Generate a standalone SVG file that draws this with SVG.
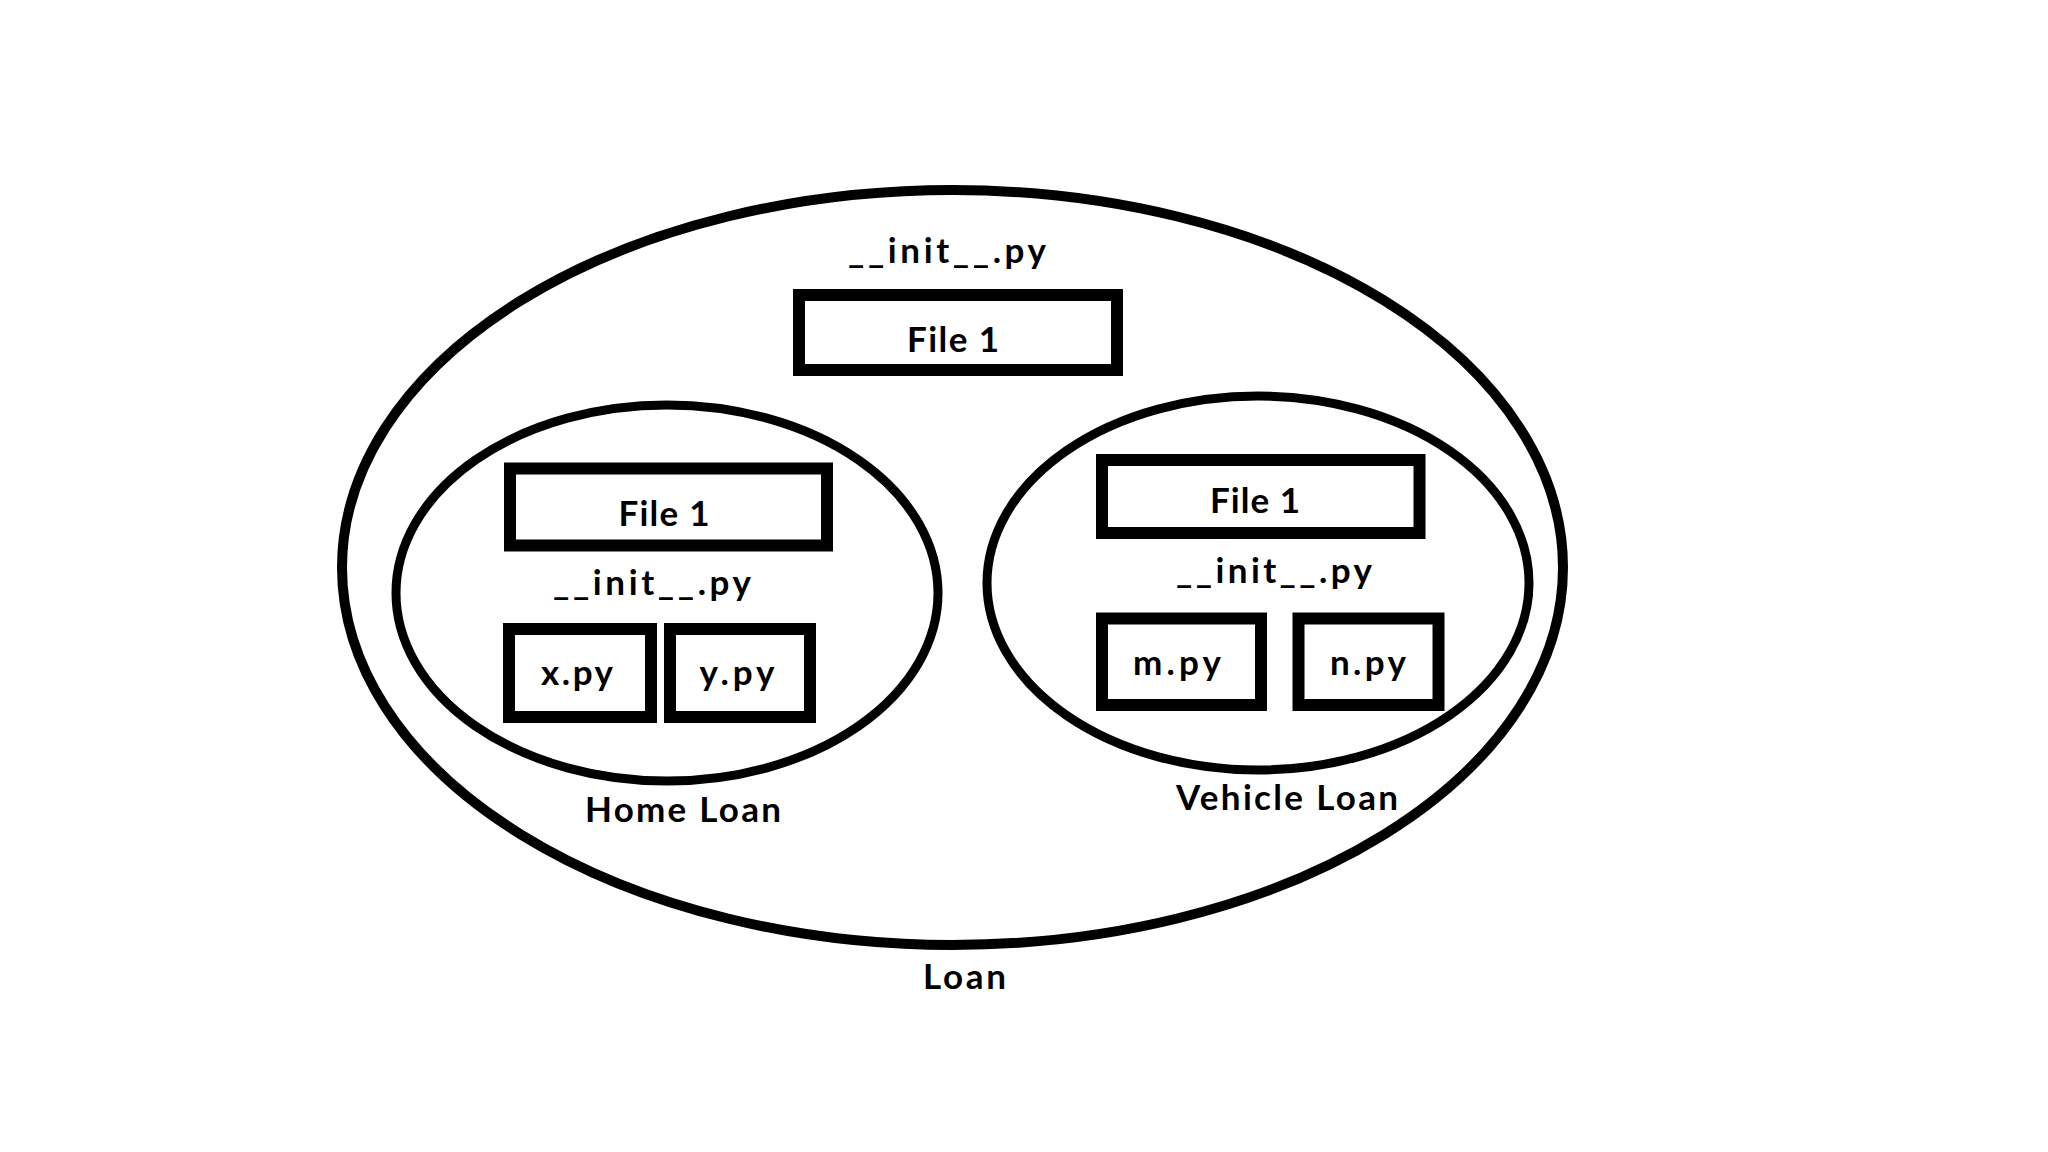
<svg xmlns="http://www.w3.org/2000/svg" width="2048" height="1152" viewBox="0 0 2048 1152">
  <style>
    .pkg { fill: none; stroke: #000; stroke-width: 9; }
    .outer { stroke-width: 10; }
    .box { fill: none; stroke: #000; stroke-width: 12; }
    .lbl { font-family: Lato, "Liberation Sans", sans-serif; font-weight: 700; font-size: 35px; fill: #000; text-anchor: middle; }
  </style>
  <rect x="0" y="0" width="2048" height="1152" fill="#fff"/>

  <g id="loan">
    <ellipse class="pkg outer" cx="952.5" cy="567.5" rx="610.5" ry="377.5"/>
    <text class="lbl" x="947" y="263" textLength="198" lengthAdjust="spacing">__init__.py</text>
    <text class="lbl" x="964.5" y="989" textLength="83" lengthAdjust="spacing">Loan</text>
  </g>

  <g id="loan-file1">
    <rect class="box" x="799" y="295" width="318" height="75"/>
    <text class="lbl" x="953" y="352" textLength="92" lengthAdjust="spacing">File 1</text>
  </g>

  <g id="home-loan">
    <ellipse class="pkg" cx="667" cy="593" rx="271" ry="188"/>
    <text class="lbl" x="652" y="595" textLength="198" lengthAdjust="spacing">__init__.py</text>
    <text class="lbl" x="683" y="822" textLength="196" lengthAdjust="spacing">Home Loan</text>
  </g>

  <g id="home-file1">
    <rect class="box" x="510" y="468.5" width="317" height="77"/>
    <text class="lbl" x="664" y="526" textLength="91" lengthAdjust="spacing">File 1</text>
  </g>

  <g id="home-x">
    <rect class="box" x="509" y="629" width="142" height="88"/>
    <text class="lbl" x="577" y="685" textLength="72" lengthAdjust="spacing">x.py</text>
  </g>

  <g id="home-y">
    <rect class="box" x="670" y="629" width="140" height="88"/>
    <text class="lbl" x="737" y="685" textLength="75" lengthAdjust="spacing">y.py</text>
  </g>

  <g id="vehicle-loan">
    <ellipse class="pkg" cx="1258" cy="583" rx="271" ry="187"/>
    <text class="lbl" x="1274" y="583" textLength="196" lengthAdjust="spacing">__init__.py</text>
    <text class="lbl" x="1287" y="810" textLength="222" lengthAdjust="spacing">Vehicle Loan</text>
  </g>

  <g id="vehicle-file1">
    <rect class="box" x="1102" y="460" width="317.5" height="73"/>
    <text class="lbl" x="1255" y="513" textLength="90" lengthAdjust="spacing">File 1</text>
  </g>

  <g id="vehicle-m">
    <rect class="box" x="1102" y="618.5" width="159" height="86.5"/>
    <text class="lbl" x="1177" y="675" textLength="88" lengthAdjust="spacing">m.py</text>
  </g>

  <g id="vehicle-n">
    <rect class="box" x="1298.5" y="618.5" width="140" height="86.5"/>
    <text class="lbl" x="1368" y="675" textLength="76" lengthAdjust="spacing">n.py</text>
  </g>

  <g id="connectors"/>
</svg>
